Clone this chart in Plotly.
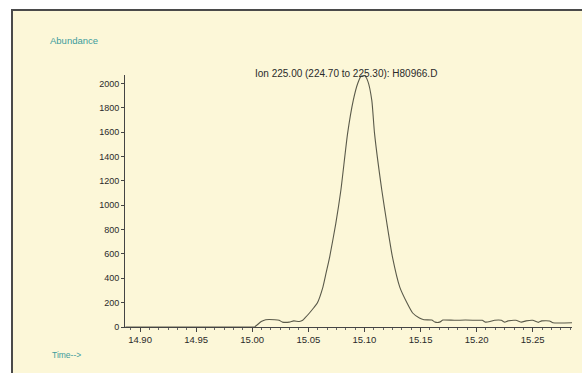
import plotly.graph_objects as go

# Retention time (min) and abundance
time_min = [14.887, 14.90, 14.95, 15.000, 15.002, 15.008, 15.012, 15.020, 15.024, 15.027,
            15.033, 15.037, 15.042, 15.045, 15.047, 15.051, 15.055, 15.058, 15.063, 15.066,
            15.069, 15.0745, 15.079, 15.085, 15.090, 15.094, 15.097, 15.100, 15.103, 15.1066,
            15.109, 15.1155, 15.120, 15.125, 15.1315, 15.138, 15.143, 15.149, 15.153, 15.160,
            15.163, 15.167, 15.170, 15.180, 15.190, 15.200, 15.205, 15.208, 15.212, 15.216,
            15.222, 15.225, 15.228, 15.235, 15.240, 15.244, 15.250, 15.255, 15.258, 15.265,
            15.268, 15.285]
abundance = [0, 0, 0, 0, 0, 45, 60, 60, 55, 40,
             40, 50, 45, 55, 74, 115, 160, 197, 328, 450,
             574, 852, 1123, 1590, 1860, 2000, 2060, 2065, 2020, 1860,
             1590, 1123, 852, 574, 328, 197, 115, 74, 60, 57,
             40, 40, 57, 55, 57, 55, 55, 40, 45, 55,
             55, 40, 50, 55, 40, 50, 55, 38, 50, 50,
             35, 35]

x_ticks = [14.90, 14.95, 15.00, 15.05, 15.10, 15.15, 15.20, 15.25]
x_tick_labels = ["14.90", "14.95", "15.00", "15.05", "15.10", "15.15", "15.20", "15.25"]
y_ticks = [0, 200, 400, 600, 800, 1000, 1200, 1400, 1600, 1800, 2000]

title_text = "Ion 225.00 (224.70 to 225.30): H80966.D"

CREAM = "#FCF7D8"
TEAL = "#3C9C9C"
INK = "#2A2A2A"
FONT = "Liberation Sans"

fig = go.Figure()
fig.add_trace(go.Scatter(
    x=time_min, y=abundance, mode="lines",
    line=dict(color="#5a5a4a", width=1.1, shape="spline", smoothing=0.5),
    cliponaxis=False, showlegend=False, hoverinfo="skip",
))

W, H = 582, 373
L, R, T, B = 125, 10, 75, 46
pw, ph = W - L - R, H - T - B

def px_to_paper_x(px):
    return (px - L) / pw

def px_to_paper_y(py):
    return (H - B - py) / ph

# cream panel with dark frame on top and left
fig.add_shape(type="rect", xref="paper", yref="paper",
              x0=px_to_paper_x(12), x1=px_to_paper_x(W + 20),
              y0=px_to_paper_y(H + 20), y1=px_to_paper_y(10),
              fillcolor=CREAM, line=dict(color="#4a4a4a", width=2), layer="below")

fig.add_annotation(text="Abundance", xref="paper", yref="paper",
                   x=px_to_paper_x(48), y=px_to_paper_y(40), xanchor="left", yanchor="middle",
                   showarrow=False, font=dict(family=FONT, size=9.5, color=TEAL))
fig.add_annotation(text="Time-->", xref="paper", yref="paper",
                   x=px_to_paper_x(50), y=px_to_paper_y(355), xanchor="left", yanchor="middle",
                   showarrow=False, font=dict(family=FONT, size=8.5, color=TEAL))
fig.add_annotation(text=title_text, xref="paper", yref="paper",
                   x=px_to_paper_x(253), y=px_to_paper_y(73), xanchor="left", yanchor="middle",
                   showarrow=False, font=dict(family=FONT, size=10, color=INK))

fig.update_layout(
    width=W, height=H,
    margin=dict(l=L, r=R, t=T, b=B, pad=0),
    paper_bgcolor="white", plot_bgcolor=CREAM,
    font=dict(family=FONT, size=9, color=INK),
    xaxis=dict(range=[14.8866, 15.285], tickvals=x_ticks, ticktext=x_tick_labels,
               showgrid=False, zeroline=False, showline=True, linecolor="#444", linewidth=1,
               ticks="outside", ticklen=4, tickcolor="#444", tickfont=dict(size=9.5),
               minor=dict(dtick=0.05 / 6, tick0=14.90, ticks="outside", ticklen=2, tickcolor="#666",
                          showgrid=False)),
    yaxis=dict(range=[0, 2070], tickvals=y_ticks,
               showgrid=False, zeroline=False, showline=True, linecolor="#444", linewidth=1,
               ticks="outside", ticklen=3, tickcolor="#444", tickfont=dict(size=9)),
)

fig.write_html("out.html")
